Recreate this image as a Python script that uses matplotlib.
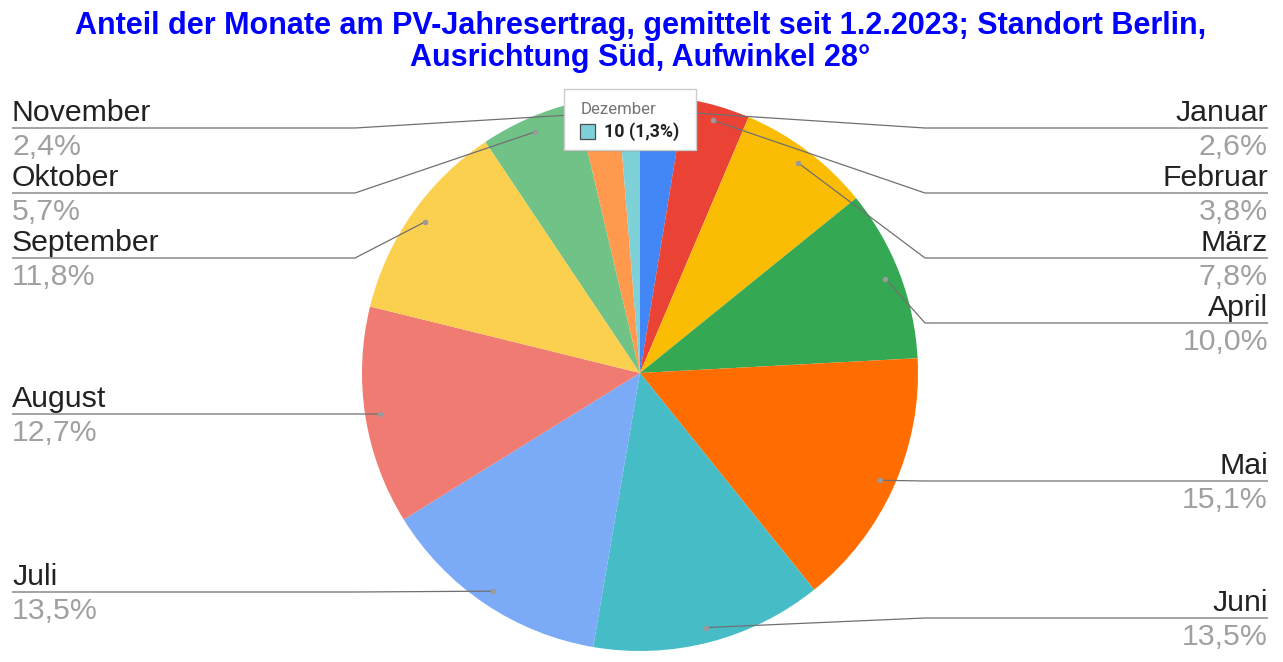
import numpy as np
import matplotlib
matplotlib.use("Agg")
import matplotlib.pyplot as plt
from matplotlib.patches import Rectangle

# ---------------- data ----------------
months = ["Januar", "Februar", "März", "April", "Mai", "Juni",
          "Juli", "August", "September", "Oktober", "November", "Dezember"]
shares = [2.6, 3.8, 7.8, 10.0, 15.1, 13.5, 13.5, 12.7, 11.8, 5.7, 2.4, 1.3]
colors = ["#4285F4", "#EA4335", "#FBBC04", "#34A853", "#FF6D01", "#46BDC6",
          "#7BAAF7", "#F07B72", "#FCD04F", "#71C287", "#FF994D", "#7ED1D7"]
tooltip_month = "Dezember"
tooltip_value = 10
title_lines = ["Anteil der Monate am PV-Jahresertrag, gemittelt seit 1.2.2023; Standort Berlin,",
               "Ausrichtung Süd, Aufwinkel 28°"]

# ---------------- layout (pixels) ----------------
W, H = 1283, 662
CX, CY, R = 640, 373, 278
right_labels = {"Januar": 128, "Februar": 193, "März": 258, "April": 323,
                "Mai": 481, "Juni": 618}
left_labels = {"Juli": 592, "August": 414, "September": 258, "Oktober": 193,
               "November": 128}
RIGHT_X, RIGHT_BEND = 1268, 925
LEFT_X, LEFT_BEND = 12, 355
FONT = "Liberation Sans"
LSIZE = 21.8


def de_pct(v):
    return f"{v:.1f}".replace(".", ",") + "%"


fig = plt.figure(figsize=(W / 100, H / 100), dpi=100)
ax = fig.add_axes([0, 0, 1, 1])

wedges, _ = ax.pie(shares, colors=colors, startangle=-90, counterclock=True,
                   radius=R, center=(CX, CY), wedgeprops=dict(linewidth=0))
ax.set_xlim(0, W)
ax.set_ylim(H, 0)
ax.set_aspect("auto")
ax.axis("off")

line_color = "#707070"
for w, name, val in zip(wedges, months, shares):
    mid = np.deg2rad((w.theta1 + w.theta2) / 2)
    dx = CX + 0.946 * R * np.cos(mid)
    dy = CY + 0.946 * R * np.sin(mid)
    if name in right_labels:
        ly = right_labels[name]
        ax.plot([RIGHT_X, RIGHT_BEND, dx], [ly, ly, dy], color=line_color,
                lw=0.9, zorder=3, solid_capstyle="butt")
        ax.plot([dx], [dy], "o", ms=3, color="#9a9a9a", zorder=4)
        ax.text(RIGHT_X, ly - 7, name, ha="right", va="baseline",
                fontsize=LSIZE, family=FONT, color="#222222")
        ax.text(RIGHT_X, ly + 27, de_pct(val), ha="right", va="baseline",
                fontsize=LSIZE, family=FONT, color="#a0a0a0")
    elif name in left_labels:
        ly = left_labels[name]
        ax.plot([LEFT_X, LEFT_BEND, dx], [ly, ly, dy], color=line_color,
                lw=0.9, zorder=3, solid_capstyle="butt")
        ax.plot([dx], [dy], "o", ms=3, color="#9a9a9a", zorder=4)
        ax.text(LEFT_X, ly - 7, name, ha="left", va="baseline",
                fontsize=LSIZE, family=FONT, color="#222222")
        ax.text(LEFT_X, ly + 27, de_pct(val), ha="left", va="baseline",
                fontsize=LSIZE, family=FONT, color="#a0a0a0")

# title
ax.text(641, 34, title_lines[0], ha="center", va="baseline", fontsize=22,
        fontweight="bold", family=FONT, color="#0000FF")
ax.text(640, 66, title_lines[1], ha="center", va="baseline", fontsize=22,
        fontweight="bold", family=FONT, color="#0000FF")

# tooltip
ti = months.index(tooltip_month)
shadow = Rectangle((565, 90), 132, 62, facecolor="#000000", alpha=0.08,
                   edgecolor="none", zorder=9)
ax.add_patch(shadow)
box = Rectangle((564, 89), 132, 61, facecolor="white", edgecolor="#cccccc",
                lw=1, zorder=10)
ax.add_patch(box)
ax.text(581, 114, tooltip_month, ha="left", va="baseline", fontsize=12.1,
        family="Roboto", color="#757575", zorder=11)
ax.add_patch(Rectangle((580, 124), 15, 15, facecolor=colors[ti],
                       edgecolor="#4f4f4f", lw=0.9, zorder=11))
ax.text(604, 137, f"{tooltip_value} ({de_pct(shares[ti])[:-1]}%)", ha="left",
        va="baseline", fontsize=12.8, family="Roboto", fontweight="bold",
        color="#212121", zorder=11)

fig.savefig("out.png", dpi=100)
